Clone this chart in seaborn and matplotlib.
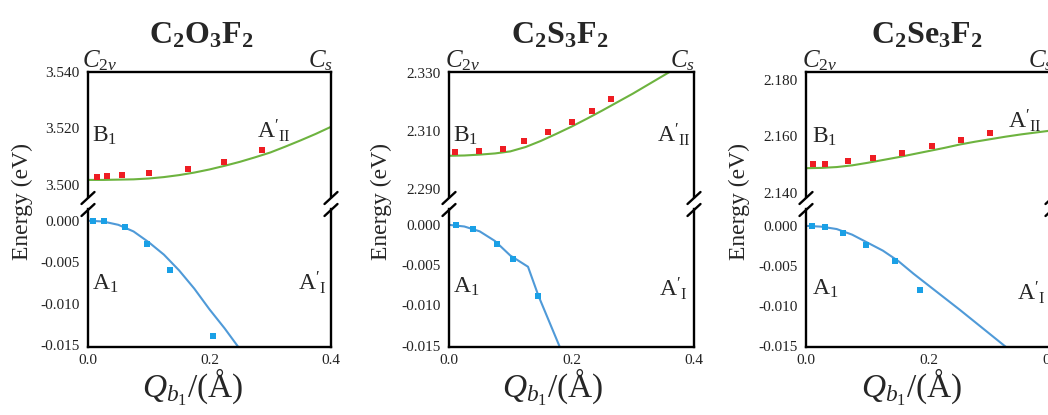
import numpy as np
import pandas as pd
import matplotlib
matplotlib.use("Agg")
import matplotlib.pyplot as plt
import seaborn as sns
from matplotlib.lines import Line2D

# ---------------- data ----------------
titles = [r"$\mathbf{C_2O_3F_2}$", r"$\mathbf{C_2S_3F_2}$", r"$\mathbf{C_2Se_3F_2}$"]

# upper state (B1 -> A'II): computed points (red) and fitted curve (green)
q_pts_B_O = [0.014, 0.032, 0.056, 0.101, 0.164, 0.224, 0.287]
e_pts_B_O = [3.5029, 3.5032, 3.5034, 3.5041, 3.5055, 3.5082, 3.5124]
q_fit_B_O = [0.0, 0.025, 0.05, 0.075, 0.10, 0.125, 0.15, 0.175, 0.20, 0.225, 0.25, 0.275, 0.30, 0.325, 0.35, 0.375, 0.40]
e_fit_B_O = [3.5018, 3.5018, 3.5019, 3.5020, 3.5023, 3.5028, 3.5035, 3.5044, 3.5055, 3.5068,
             3.5082, 3.5098, 3.5115, 3.5136, 3.5158, 3.5181, 3.5206]

q_pts_B_S = [0.010, 0.049, 0.088, 0.122, 0.162, 0.201, 0.234, 0.264]
e_pts_B_S = [2.3029, 2.3032, 2.3039, 2.3065, 2.3096, 2.3131, 2.3169, 2.3209]
q_fit_B_S = [0.0, 0.025, 0.05, 0.075, 0.10, 0.125, 0.15, 0.175, 0.20, 0.225, 0.25, 0.275, 0.30, 0.325, 0.35, 0.375, 0.40]
e_fit_B_S = [2.3015, 2.3016, 2.3019, 2.3023, 2.3030, 2.3045, 2.3066, 2.3090, 2.3115, 2.3142,
             2.3170, 2.3199, 2.3228, 2.3259, 2.3290, 2.3321, 2.3352]

q_pts_B_Se = [0.011, 0.031, 0.069, 0.109, 0.156, 0.205, 0.252, 0.299]
e_pts_B_Se = [2.1502, 2.1502, 2.1511, 2.1524, 2.1542, 2.1566, 2.1587, 2.1613]
q_fit_B_Se = [0.0, 0.025, 0.05, 0.075, 0.10, 0.125, 0.15, 0.175, 0.20, 0.225, 0.25, 0.275, 0.30, 0.325, 0.35, 0.375, 0.40]
e_fit_B_Se = [2.1487, 2.1488, 2.1491, 2.1497, 2.1506, 2.1516, 2.1526, 2.1537, 2.1548, 2.1559,
              2.1571, 2.1581, 2.1590, 2.1599, 2.1607, 2.1614, 2.1621]

# lower state (A1 -> A'I): computed points (blue) and fitted curve (blue)
q_pts_A_O = [0.009, 0.027, 0.061, 0.097, 0.135, 0.205]
e_pts_A_O = [0.0000, 0.0000, -0.0008, -0.0028, -0.0060, -0.0139]
q_fit_A_O = [0.0, 0.025, 0.05, 0.075, 0.10, 0.125, 0.15, 0.175, 0.20, 0.225, 0.25]
e_fit_A_O = [0.0, -0.0001, -0.0005, -0.0013, -0.0026, -0.0041, -0.0060, -0.0082, -0.0107, -0.0130, -0.0155]

q_pts_A_S = [0.012, 0.039, 0.078, 0.105, 0.146]
e_pts_A_S = [0.0000, -0.0005, -0.0024, -0.0042, -0.0088]
q_fit_A_S = [0.0, 0.025, 0.05, 0.075, 0.10, 0.129, 0.146, 0.163, 0.18, 0.19]
e_fit_A_S = [0.0, -0.0002, -0.0008, -0.0020, -0.0038, -0.0052, -0.0088, -0.0119, -0.0150, -0.0168]

q_pts_A_Se = [0.010, 0.031, 0.060, 0.098, 0.145, 0.185]
e_pts_A_Se = [0.0000, -0.0002, -0.0009, -0.0024, -0.0044, -0.0080]
q_fit_A_Se = [0.0, 0.025, 0.05, 0.075, 0.10, 0.125, 0.15, 0.175, 0.20, 0.25, 0.30, 0.35]
e_fit_A_Se = [0.0, -0.0001, -0.0004, -0.0011, -0.0021, -0.0031, -0.0044, -0.0060, -0.0075, -0.0105, -0.0136, -0.0167]

upper_ticks = [[3.500, 3.520, 3.540], [2.290, 2.310, 2.330], [2.140, 2.160, 2.180]]
lower_ticks = [0.000, -0.005, -0.010, -0.015]
x_ticks = [0.0, 0.2, 0.4]
x_ticklabels = ["0.0", "0.2", "0.4"]

# ---------------- style ----------------
sns.set_theme(style="white")
plt.rcParams.update({
    "font.family": ["Liberation Serif", "DejaVu Serif"],
    "mathtext.fontset": "custom",
    "mathtext.rm": "Liberation Serif",
    "mathtext.it": "Liberation Serif:italic",
    "mathtext.bf": "Liberation Serif:bold",
    "axes.unicode_minus": False,
})

W, H = 1048, 415
fig = plt.figure(figsize=(W / 100, H / 100), dpi=100)

def fx(x):
    return x / W

def fy(y):
    return 1 - y / H

RED = "#ee1d23"
GREEN = "#6db33f"
BLUE_LINE = "#4f9ad8"
BLUE_PT = "#1aa0e6"
SPINE_LW = 1.7

panel_left = [88, 449, 806]
panel_right = [331, 694, 1052]
upper_lims = [(3.49575, 3.5400), (2.28736, 2.33024), (2.13847, 2.18284)]
lower_lims = [(-0.01524, 0.00141), (-0.01516, 0.00197), (-0.01516, 0.00211)]

upper_data = [
    (q_pts_B_O, e_pts_B_O, q_fit_B_O, e_fit_B_O),
    (q_pts_B_S, e_pts_B_S, q_fit_B_S, e_fit_B_S),
    (q_pts_B_Se, e_pts_B_Se, q_fit_B_Se, e_fit_B_Se),
]
lower_data = [
    (q_pts_A_O, e_pts_A_O, q_fit_A_O, e_fit_A_O),
    (q_pts_A_S, e_pts_A_S, q_fit_A_S, e_fit_A_S),
    (q_pts_A_Se, e_pts_A_Se, q_fit_A_Se, e_fit_A_Se),
]

UP_TOP, UP_BOT = 72, 197
LO_TOP, LO_BOT = 209, 347

tick_kw = dict(fontsize=11, color="#222222")

for i in range(3):
    L, R = panel_left[i], panel_right[i]
    axu = fig.add_axes([fx(L), fy(UP_BOT), (R - L) / W, (UP_BOT - UP_TOP) / H])
    axl = fig.add_axes([fx(L), fy(LO_BOT), (R - L) / W, (LO_BOT - LO_TOP) / H])

    qp, ep, qf, ef = upper_data[i]
    sns.lineplot(x=qf, y=ef, ax=axu, color=GREEN, lw=1.5, sort=False)
    sns.scatterplot(x=qp, y=ep, ax=axu, color=RED, marker="s", s=16, linewidth=0, zorder=3)
    qp, ep, qf, ef = lower_data[i]
    sns.lineplot(x=qf, y=ef, ax=axl, color=BLUE_LINE, lw=1.5, sort=False)
    sns.scatterplot(x=qp, y=ep, ax=axl, color=BLUE_PT, marker="s", s=16, linewidth=0, zorder=3)

    for ax in (axu, axl):
        ax.set_xlim(0, 0.4)
        ax.set_xlabel("")
        ax.set_ylabel("")
        ax.set_facecolor("none")
        ax.tick_params(length=0, pad=6)
        for s in ax.spines.values():
            s.set_color("black")
            s.set_linewidth(SPINE_LW)
    axu.spines["bottom"].set_visible(False)
    axl.spines["top"].set_visible(False)

    axu.set_ylim(*upper_lims[i])
    axu.set_yticks(upper_ticks[i])
    axu.set_yticklabels([f"{v:.3f}" for v in upper_ticks[i]], **tick_kw)
    axu.set_xticks([])

    axl.set_ylim(*lower_lims[i])
    axl.set_yticks(lower_ticks)
    axl.set_yticklabels([f"{v:.3f}" for v in lower_ticks], **tick_kw)
    axl.set_xticks(x_ticks)
    axl.set_xticklabels(x_ticklabels, **tick_kw)
    axl.tick_params(axis="x", pad=5)

    # axis-break marks on both side spines
    for xs in (L, R):
        for yc in (UP_BOT + 1, LO_TOP + 1):
            fig.add_artist(Line2D([fx(xs - 6.5), fx(xs + 6.5)], [fy(yc + 6), fy(yc - 6)],
                                  color="black", lw=SPINE_LW, transform=fig.transFigure))

# titles
for t, xc in zip(titles, [201, 560, 927]):
    fig.text(fx(xc), fy(43), t, ha="center", va="baseline", fontsize=23)

# symmetry labels above the frames
for xl, xr in [(82, 308), (445, 670), (802, 1028)]:
    fig.text(fx(xl), fy(67), r"$C_{2v}$", ha="left", va="baseline", fontsize=18)
    fig.text(fx(xr), fy(67), r"$C_s$", ha="left", va="baseline", fontsize=18)

# state labels
state_pos = [
    [(92, 141.7), (257, 138), (92, 290), (298, 290)],
    [(453, 141.7), (657, 141.7), (453, 293), (659, 296)],
    [(812, 142.7), (1008, 127.7), (812, 295), (1017, 300)],
]
state_txt = [r"$\mathrm{B}_1$", r"$\mathrm{A}'_{\mathrm{II}}$", r"$\mathrm{A}_1$", r"$\mathrm{A}'_{\mathrm{I}}$"]
for pos in state_pos:
    for (x, y), s in zip(pos, state_txt):
        fig.text(fx(x), fy(y), s, ha="left", va="baseline", fontsize=17)

# y labels
for xc in [22, 381, 739]:
    fig.text(fx(xc), fy(202), "Energy (eV)", rotation=90, ha="center", va="center", fontsize=17)

# x labels
for xc in [193, 553, 912]:
    fig.text(fx(xc), fy(398), r"$Q_{b_1}/(\mathrm{\AA})$", ha="center", va="baseline", fontsize=24)

fig.savefig("out.png", dpi=100)
